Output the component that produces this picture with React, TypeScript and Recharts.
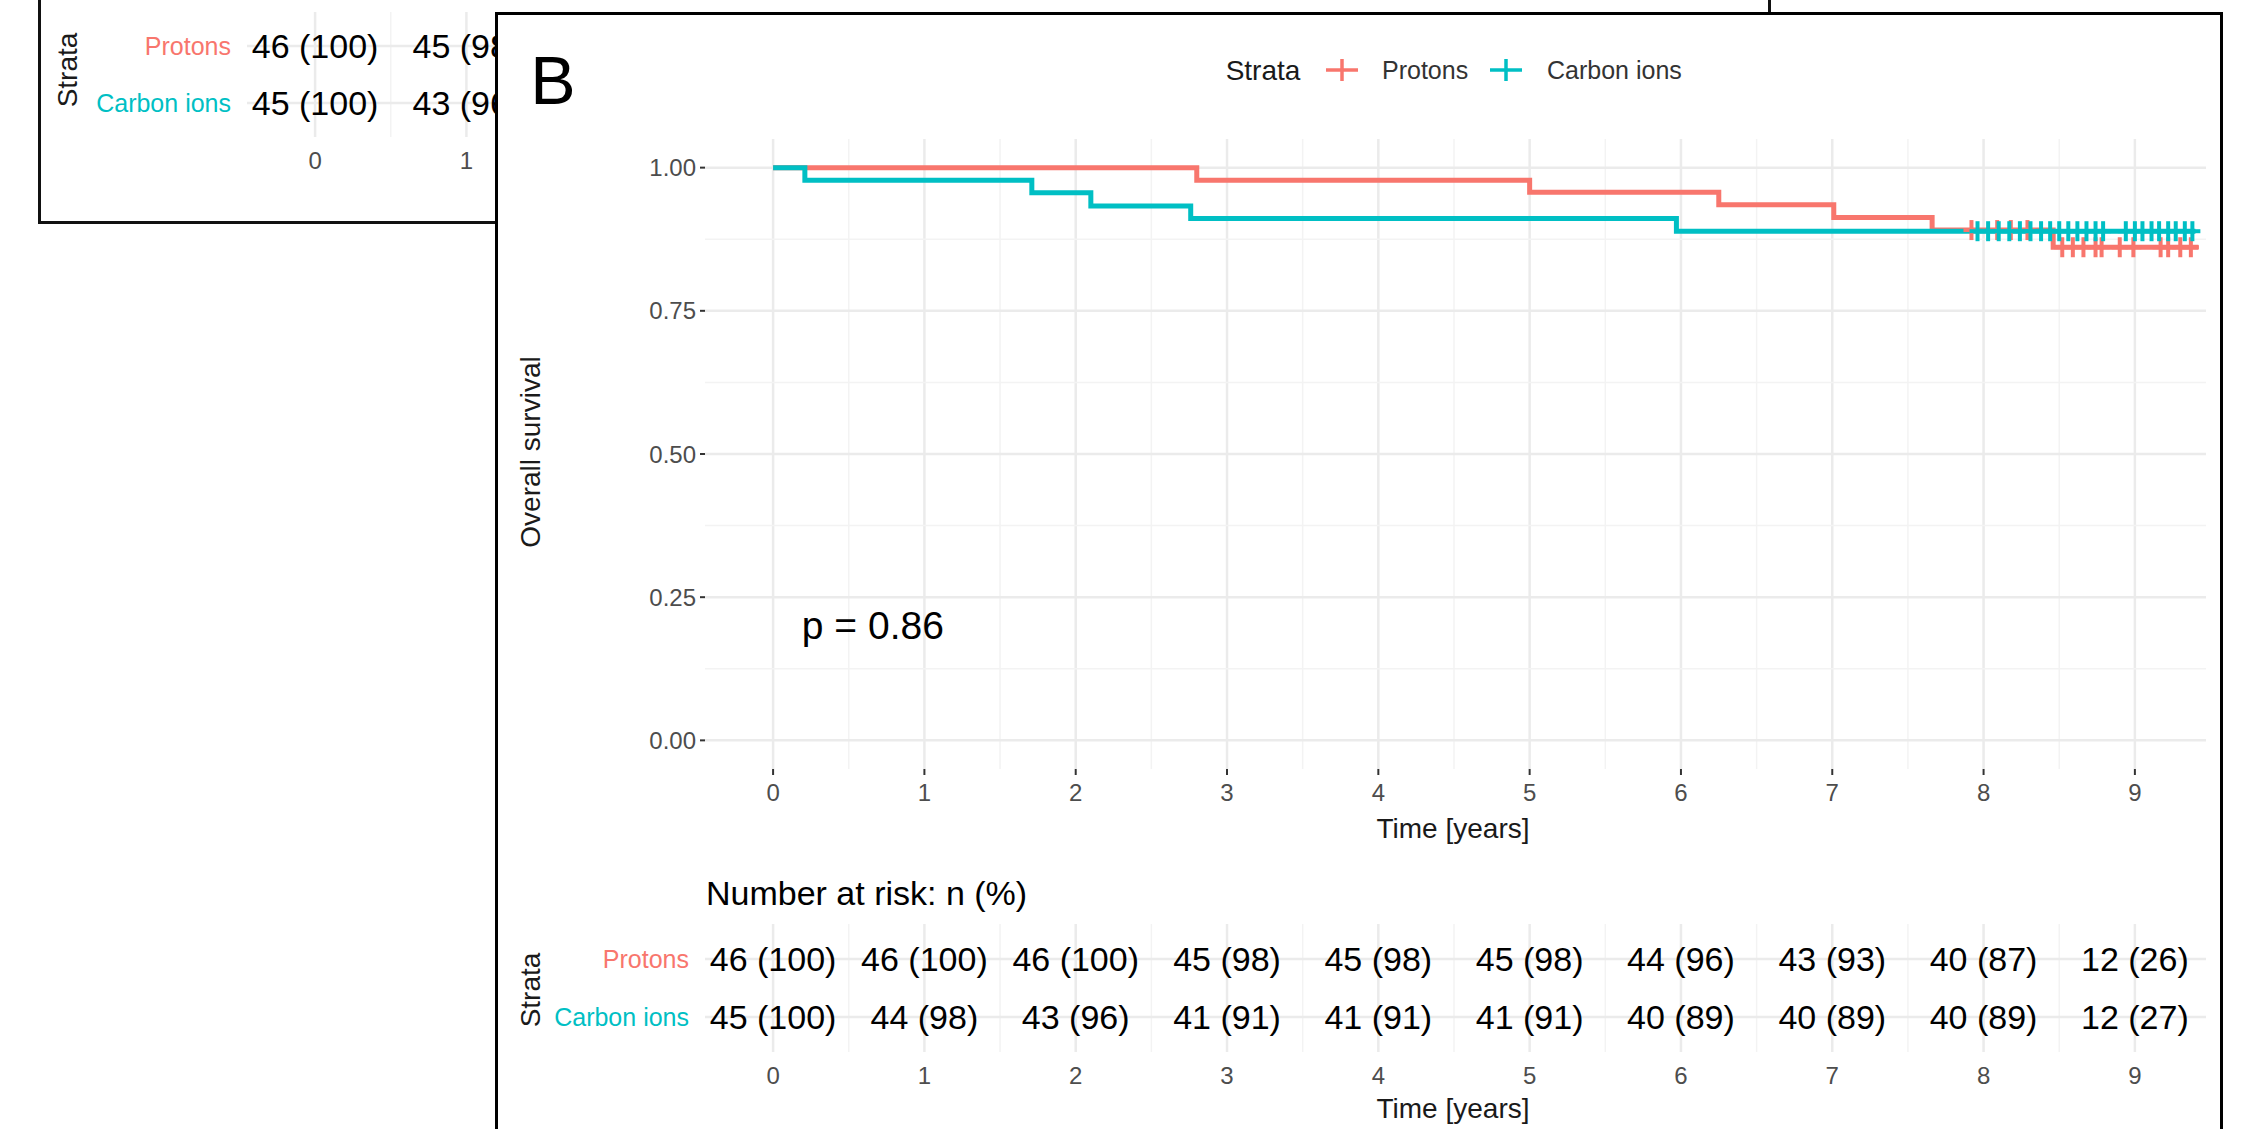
import React from 'react';
import {
  ComposedChart,
  ScatterChart,
  Line,
  Scatter,
  XAxis,
  YAxis,
  ReferenceLine,
} from 'recharts';

const FONT = '"Liberation Sans", Arial, Helvetica, sans-serif';
const RED = '#F8766D';
const TEAL = '#00BFC4';
const GRID = '#EBEBEB';
const GRID_MINOR = '#F3F3F3';

// axes
const years = [0, 1, 2, 3, 4, 5, 6, 7, 8, 9];
const minorYears = [0.5, 1.5, 2.5, 3.5, 4.5, 5.5, 6.5, 7.5, 8.5];
const survTicks = [0, 0.25, 0.5, 0.75, 1];
const survMinor = [0.125, 0.375, 0.625, 0.875];
const X_DOMAIN = [-0.45, 9.47];

// strata (row 2 = top row)
const strata = ['Protons', 'Carbon ions'];
const strataColors = [RED, TEAL];

// Kaplan-Meier steps
const protonsTime = [0, 2.8, 5.0, 6.25, 7.01, 7.66, 8.46, 9.42];
const protonsSurv = [1, 0.978, 0.957, 0.935, 0.913, 0.891, 0.861, 0.861];
const carbonTime = [0, 0.21, 1.71, 2.1, 2.76, 5.97, 9.4];
const carbonSurv = [1, 0.978, 0.956, 0.933, 0.911, 0.889, 0.889];

// censoring times (+ marks)
const protonsCensor = [7.92, 8.09, 8.18, 8.29, 8.52, 8.59, 8.66, 8.74, 8.78, 8.9, 8.99, 9.17, 9.22, 9.3, 9.37];
const carbonCensor = [
  7.96, 8.03, 8.1, 8.17, 8.24, 8.31, 8.38, 8.44, 8.5, 8.56, 8.62, 8.68, 8.74, 8.79,
  8.94, 9.0, 9.05, 9.11, 9.16, 9.22, 9.27, 9.33, 9.38,
];

// number at risk: n (%)
const protonsRisk = ['46 (100)', '46 (100)', '46 (100)', '45 (98)', '45 (98)', '45 (98)', '44 (96)', '43 (93)', '40 (87)', '12 (26)'];
const carbonRisk = ['45 (100)', '44 (98)', '43 (96)', '41 (91)', '41 (91)', '41 (91)', '40 (89)', '40 (89)', '40 (89)', '12 (27)'];

// panel A (mostly hidden behind panel B)
const panelAYears = [0, 1];
const panelAProtonsRisk = ['46 (100)', '45 (98)'];
const panelACarbonRisk = ['45 (100)', '43 (96)'];

const pValue = { t: 0.19, s: 0.2, text: 'p = 0.86' };

const toSteps = (times: number[], surv: number[]) => times.map((t, i) => ({ t, s: surv[i] }));

const survAt = (times: number[], surv: number[], t: number) => {
  let s = surv[0];
  times.forEach((tt, i) => {
    if (tt <= t) s = surv[i];
  });
  return s;
};

const protonsLine = toSteps(protonsTime, protonsSurv);
const carbonLine = toSteps(carbonTime, carbonSurv);
const protonsMarks = protonsCensor.map((t) => ({ t, s: survAt(protonsTime, protonsSurv, t) }));
const carbonMarks = carbonCensor.map((t) => ({ t, s: survAt(carbonTime, carbonSurv, t) }));

const CensorMark = (color: string) => (props: any) => {
  const { cx, cy } = props;
  if (cx == null || cy == null) return <g />;
  return (
    <g stroke={color} strokeWidth={4}>
      <line x1={cx - 8} x2={cx + 8} y1={cy} y2={cy} />
      <line x1={cx} x2={cx} y1={cy - 10} y2={cy + 10} />
    </g>
  );
};

const gridLinesX = (major: number[], minor: number[]) => [
  ...minor.map((v) => <ReferenceLine key={'mx' + v} x={v} stroke={GRID_MINOR} strokeWidth={1.5} />),
  ...major.map((v) => <ReferenceLine key={'Mx' + v} x={v} stroke={GRID} strokeWidth={2.5} />),
];
const gridLinesY = (major: number[], minor: number[]) => [
  ...minor.map((v) => <ReferenceLine key={'my' + v} y={v} stroke={GRID_MINOR} strokeWidth={1.5} />),
  ...major.map((v) => <ReferenceLine key={'My' + v} y={v} stroke={GRID} strokeWidth={2.5} />),
];

const tickStyle = { fill: '#4D4D4D', fontSize: 24, fontFamily: FONT };

function SurvivalPlot() {
  return (
    <div style={{ position: 'absolute', left: 0, top: 0, zIndex: 3 }}>
      <ComposedChart width={2245} height={850} margin={{ top: 139, right: 39, left: 645, bottom: 31 }}>
        <XAxis
          type="number"
          dataKey="t"
          domain={X_DOMAIN}
          allowDataOverflow
          ticks={years}
          interval={0}
          axisLine={false}
          tickLine={{ stroke: '#333333', strokeWidth: 2 }}
          tickSize={6}
          tickMargin={9}
          height={50}
          tick={tickStyle}
        />
        <YAxis
          type="number"
          dataKey="s"
          domain={[-0.05, 1.05]}
          allowDataOverflow
          ticks={survTicks}
          interval={0}
          tickFormatter={(v: number) => v.toFixed(2)}
          axisLine={false}
          tickLine={{ stroke: '#333333', strokeWidth: 2 }}
          tickSize={5}
          tickMargin={4}
          width={60}
          tick={tickStyle}
        />
        {gridLinesX(years, minorYears)}
        {gridLinesY(survTicks, survMinor)}
        <Line data={protonsLine} dataKey="s" type="stepAfter" stroke={RED} strokeWidth={5} dot={false} isAnimationActive={false} />
        <Line data={carbonLine} dataKey="s" type="stepAfter" stroke={TEAL} strokeWidth={5} dot={false} isAnimationActive={false} />
        <Scatter data={protonsMarks} dataKey="s" shape={CensorMark(RED)} isAnimationActive={false} />
        <Scatter data={carbonMarks} dataKey="s" shape={CensorMark(TEAL)} isAnimationActive={false} />
        <Scatter
          data={[pValue]}
          dataKey="s"
          isAnimationActive={false}
          shape={(p: any) => (
            <text x={p.cx} y={p.cy} dominantBaseline="central" fontSize={39} fontFamily={FONT} fill="#000">
              {p.payload.text}
            </text>
          )}
        />
      </ComposedChart>
    </div>
  );
}

interface RiskTableProps {
  chartTop: number;
  chartHeight: number;
  plotTop: number;
  plotBottom: number;
  plotLeft: number;
  ticks: number[];
  protons: string[];
  carbon: string[];
  zIndex: number;
}

function RiskTable({ chartTop, chartHeight, plotTop, plotBottom, plotLeft, ticks, protons, carbon, zIndex }: RiskTableProps) {
  const plotWidth = 2206 - 705;
  const yAxisWidth = 200;
  const xAxisHeight = 40;
  const rows = [
    ...protons.map((label, i) => ({ t: ticks[i], row: 2, label })),
    ...carbon.map((label, i) => ({ t: ticks[i], row: 1, label })),
  ];
  const RiskText = (p: any) => (
    <text x={p.cx} y={p.cy} textAnchor="middle" dominantBaseline="central" fontSize={34} fontFamily={FONT} fill="#000">
      {p.payload.label}
    </text>
  );
  const StrataTick = (p: any) => {
    const idx = p.payload.value === 2 ? 0 : 1;
    return (
      <text x={p.x} y={p.y} textAnchor="end" dominantBaseline="central" fontSize={25} fontFamily={FONT} fill={strataColors[idx]}>
        {strata[idx]}
      </text>
    );
  };
  return (
    <div style={{ position: 'absolute', left: 0, top: chartTop, zIndex }}>
      <ScatterChart
        width={plotLeft + plotWidth + 60}
        height={chartHeight}
        margin={{
          top: plotTop - chartTop,
          right: 60,
          left: plotLeft - yAxisWidth,
          bottom: chartTop + chartHeight - plotBottom - xAxisHeight,
        }}
      >
        <XAxis
          type="number"
          dataKey="t"
          domain={X_DOMAIN}
          allowDataOverflow
          ticks={years}
          interval={0}
          axisLine={false}
          tickLine={false}
          tickSize={6}
          tickMargin={9}
          height={xAxisHeight}
          tick={tickStyle}
        />
        <YAxis
          type="number"
          dataKey="row"
          domain={[0.4, 2.6]}
          allowDataOverflow
          ticks={[1, 2]}
          interval={0}
          axisLine={false}
          tickLine={false}
          tickSize={0}
          tickMargin={16}
          width={yAxisWidth}
          tick={StrataTick}
        />
        {gridLinesX(years, minorYears)}
        {[1, 2].map((v) => (
          <ReferenceLine key={'r' + v} y={v} stroke={GRID} strokeWidth={2.5} />
        ))}
        <Scatter data={rows} dataKey="row" shape={RiskText} isAnimationActive={false} />
      </ScatterChart>
    </div>
  );
}

function Overlay() {
  const title = { fontFamily: FONT, fill: '#1A1A1A' } as const;
  return (
    <svg width={2245} height={1129} style={{ position: 'absolute', left: 0, top: 0, zIndex: 4, pointerEvents: 'none' }}>
      <text x={553} y={80} textAnchor="middle" dominantBaseline="central" fontSize={68} {...title} fill="#000">B</text>
      {/* legend */}
      <text x={1263} y={70} textAnchor="middle" dominantBaseline="central" fontSize={28} {...title}>Strata</text>
      <g stroke={RED} strokeWidth={3.5}>
        <line x1={1326} x2={1358} y1={70} y2={70} />
        <line x1={1342} x2={1342} y1={59} y2={81} />
      </g>
      <text x={1382} y={70} dominantBaseline="central" fontSize={25} fontFamily={FONT} fill="#333">{strata[0]}</text>
      <g stroke={TEAL} strokeWidth={3.5}>
        <line x1={1490} x2={1522} y1={70} y2={70} />
        <line x1={1506} x2={1506} y1={59} y2={81} />
      </g>
      <text x={1547} y={70} dominantBaseline="central" fontSize={25} fontFamily={FONT} fill="#333">{strata[1]}</text>
      {/* axis titles */}
      <text transform="translate(530,452) rotate(-90)" textAnchor="middle" dominantBaseline="central" fontSize={28} {...title}>Overall survival</text>
      <text x={1453} y={828} textAnchor="middle" dominantBaseline="central" fontSize={28} {...title}>Time [years]</text>
      <text x={706} y={893} dominantBaseline="central" fontSize={34} fontFamily={FONT} fill="#000">Number at risk: n (%)</text>
      <text transform="translate(530,990) rotate(-90)" textAnchor="middle" dominantBaseline="central" fontSize={28} {...title}>Strata</text>
      <text x={1453} y={1108} textAnchor="middle" dominantBaseline="central" fontSize={28} {...title}>Time [years]</text>
    </svg>
  );
}

export default function App() {
  return (
    <div style={{ position: 'absolute', left: 0, top: 0, width: 2245, height: 1129, overflow: 'hidden', background: '#fff' }}>
      {/* panel A, cut off */}
      <div
        style={{
          position: 'absolute',
          left: 38,
          top: -30,
          width: 1733,
          height: 254,
          border: '3px solid #111',
          boxSizing: 'border-box',
          background: '#fff',
          zIndex: 1,
        }}
      />
      <RiskTable
        chartTop={0}
        chartHeight={200}
        plotTop={12}
        plotBottom={137}
        plotLeft={247}
        ticks={panelAYears}
        protons={panelAProtonsRisk}
        carbon={panelACarbonRisk}
        zIndex={1}
      />
      <svg width={140} height={223} style={{ position: 'absolute', left: 0, top: 0, zIndex: 1 }}>
        <text transform="translate(67,70) rotate(-90)" textAnchor="middle" dominantBaseline="central" fontSize={28} fontFamily={FONT} fill="#1A1A1A">
          Strata
        </text>
      </svg>
      {/* panel B */}
      <div
        style={{
          position: 'absolute',
          left: 495,
          top: 12,
          width: 1728,
          height: 1200,
          border: '3px solid #000',
          boxSizing: 'border-box',
          background: '#fff',
          zIndex: 2,
        }}
      />
      <SurvivalPlot />
      <RiskTable
        chartTop={860}
        chartHeight={269}
        plotTop={924}
        plotBottom={1052}
        plotLeft={705}
        ticks={years}
        protons={protonsRisk}
        carbon={carbonRisk}
        zIndex={3}
      />
      <Overlay />
    </div>
  );
}
